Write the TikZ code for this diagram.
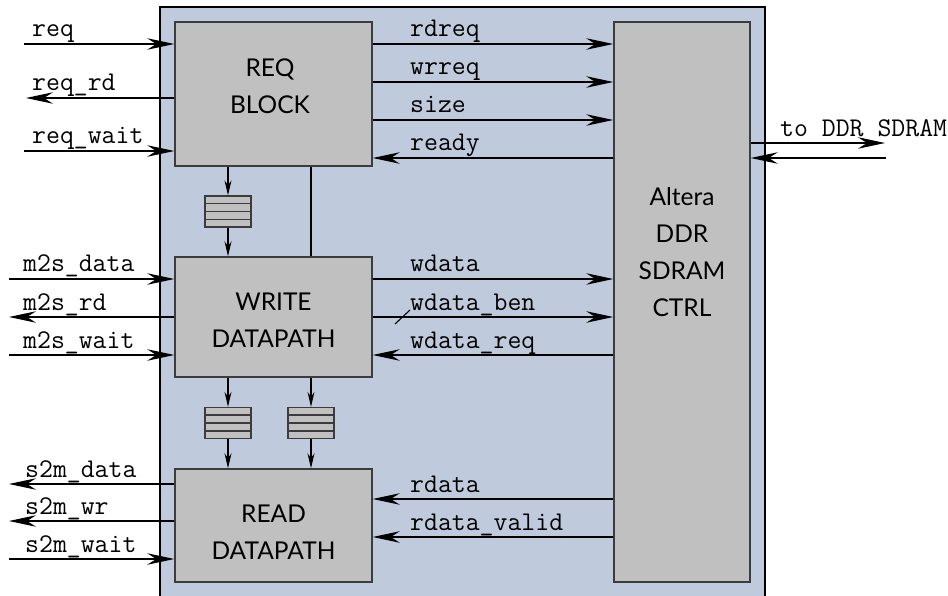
\documentclass[tikz,border=0pt]{standalone}
\usepackage{fontspec}
\newfontfamily\blockfont{Lato}
\usetikzlibrary{arrows.meta,calc}
\definecolor{bgblue}{RGB}{191,202,220}
\definecolor{boxgray}{RGB}{192,192,192}
\definecolor{boxborder}{RGB}{60,60,60}
\begin{document}
\begin{tikzpicture}[x=1pt,y=-1pt,
  blk/.style={draw=boxborder, line width=1.5pt, fill=boxgray, rectangle, inner sep=0pt},
  fifo/.style={draw=boxborder, line width=1.3pt, fill=boxgray, rectangle, inner sep=0pt,
    minimum width=46pt, minimum height=31pt},
  btxt/.style={font=\blockfont\fontsize{24.5}{37}\selectfont, align=center, inner sep=0pt},
  sig/.style={font=\ttfamily\fontsize{27}{30}\selectfont, anchor=base west, inner sep=0pt},
  bus/.style={line width=1.1pt, -{Stealth[length=27pt,width=11.5pt,inset=9pt]}},
  wire/.style={line width=1.1pt},
  small/.style={line width=1.1pt, -{Stealth[length=15pt,width=7pt,inset=5pt]}},
]
\useasboundingbox (0,0) rectangle (948,596);
\begin{scope}
  \clip (0,0) rectangle (948,596);
  \draw[fill=bgblue, line width=1.2pt] (160,7) rectangle (765,612);
\end{scope}

% blocks
\node[blk, minimum width=197pt, minimum height=144pt] (req) at (273.5,94) {};
\node[blk, minimum width=197pt, minimum height=120pt] (wr) at (273.5,317) {};
\node[blk, minimum width=197pt, minimum height=113pt] (rd) at (273.5,525.5) {};
\node[blk, minimum width=136pt, minimum height=560pt] (ctrl) at (682,302) {};

\node[btxt] (reqtxt) at (270,86) {REQ\\BLOCK};
\node[btxt] (wrtxt) at (273.5,320.5) {WRITE\\DATAPATH};
\node[btxt] (rdtxt) at (273.5,532.5) {READ\\DATAPATH};
\node[btxt] (ctrltxt) at (682,252) {Altera\\DDR\\SDRAM\\CTRL};

% fifos
\node[fifo] (f1) at (228,211.5) {};
\node[fifo] (f2) at (228,423) {};
\node[fifo] (f3) at (311,423) {};
\foreach \f in {f1,f2,f3}{
  \foreach \k in {1,2,3}{
    \draw[boxborder, line width=1.3pt]
      ($(\f.north west)!\k/4!(\f.south west)$) -- ($(\f.north east)!\k/4!(\f.south east)$);
  }
}

% fifo connections
\draw[small] (f1 |- req.south) -- (f1.north);
\draw[small] (f1.south) -- (f1 |- wr.north);
\draw[wire] (f3 |- req.south) -- (f3 |- wr.north);
\draw[small] (f2 |- wr.south) -- (f2.north);
\draw[small] (f2.south) -- (f2 |- rd.north);
\draw[small] (f3 |- wr.south) -- (f3.north);
\draw[small] (f3.south) -- (f3 |- rd.north);

% left side signals
\coordinate (Lreq) at (24,44);
\coordinate (Lreqrd) at (26,98);
\coordinate (Lreqwait) at (24,151);
\coordinate (Lm2sdata) at (9,279);
\coordinate (Lm2srd) at (9,317);
\coordinate (Lm2swait) at (9,355);
\coordinate (Ls2mdata) at (9,484);
\coordinate (Ls2mwr) at (9,521);
\coordinate (Ls2mwait) at (9,559);

\draw[bus] (Lreq) -- (Lreq -| req.west);
\draw[bus] (Lreqrd -| req.west) -- (Lreqrd);
\draw[bus] (Lreqwait) -- (Lreqwait -| req.west);
\draw[bus] (Lm2sdata) -- (Lm2sdata -| wr.west);
\draw[bus] (Lm2srd -| wr.west) -- (Lm2srd);
\draw[bus] (Lm2swait) -- (Lm2swait -| wr.west);
\draw[bus] (Ls2mdata -| rd.west) -- (Ls2mdata);
\draw[bus] (Ls2mwr -| rd.west) -- (Ls2mwr);
\draw[bus] (Ls2mwait) -- (Ls2mwait -| rd.west);

\node[sig] (treq) at (32,37) {req};
\node[sig] (treqrd) at (32,91) {req\_rd};
\node[sig] (treqwait) at (32,144) {req\_wait};
\node[sig] (tm2sdata) at (23,272) {m2s\_data};
\node[sig] (tm2srd) at (23,310) {m2s\_rd};
\node[sig] (tm2swait) at (23,348) {m2s\_wait};
\node[sig] (ts2mdata) at (25,477) {s2m\_data};
\node[sig] (ts2mwr) at (25,514) {s2m\_wr};
\node[sig] (ts2mwait) at (25,552) {s2m\_wait};

% internal signals
\coordinate (Yrdreq) at (0,44);
\coordinate (Ywrreq) at (0,82);
\coordinate (Ysize) at (0,120);
\coordinate (Yready) at (0,158);
\coordinate (Ywdata) at (0,279);
\coordinate (Ywben) at (0,317);
\coordinate (Ywreq) at (0,355);
\coordinate (Yrdata) at (0,499);
\coordinate (Yrvalid) at (0,537);

\draw[bus] (req.east |- Yrdreq) -- (ctrl.west |- Yrdreq);
\draw[bus] (req.east |- Ywrreq) -- (ctrl.west |- Ywrreq);
\draw[bus] (req.east |- Ysize) -- (ctrl.west |- Ysize);
\draw[bus] (ctrl.west |- Yready) -- (req.east |- Yready);
\draw[bus] (wr.east |- Ywdata) -- (ctrl.west |- Ywdata);
\draw[bus] (wr.east |- Ywben) -- (ctrl.west |- Ywben);
\draw[bus] (ctrl.west |- Ywreq) -- (wr.east |- Ywreq);
\draw[bus] (ctrl.west |- Yrdata) -- (rd.east |- Yrdata);
\draw[bus] (ctrl.west |- Yrvalid) -- (rd.east |- Yrvalid);
\draw[wire] (395,324) -- (410,310);

\node[sig] (trdreq) at (410,37) {rdreq};
\node[sig] (twrreq) at (410,75) {wrreq};
\node[sig] (tsize) at (410,113) {size};
\node[sig] (tready) at (410,151) {ready};
\node[sig] (twdata) at (410,272) {wdata};
\node[sig] (twben) at (410,310) {wdata\_ben};
\node[sig] (twreq) at (410,348) {wdata\_req};
\node[sig] (trdata) at (410,492) {rdata};
\node[sig] (trvalid) at (410,530) {rdata\_valid};

% external DDR
\coordinate (Rout) at (885,143);
\coordinate (Rin) at (886,158);
\draw[bus] (ctrl.east |- Rout) -- (Rout);
\draw[bus] (Rin) -- (ctrl.east |- Rin);
\node[sig] (tddr) at (780,137) {to DDR SDRAM};
\end{tikzpicture}
\end{document}
